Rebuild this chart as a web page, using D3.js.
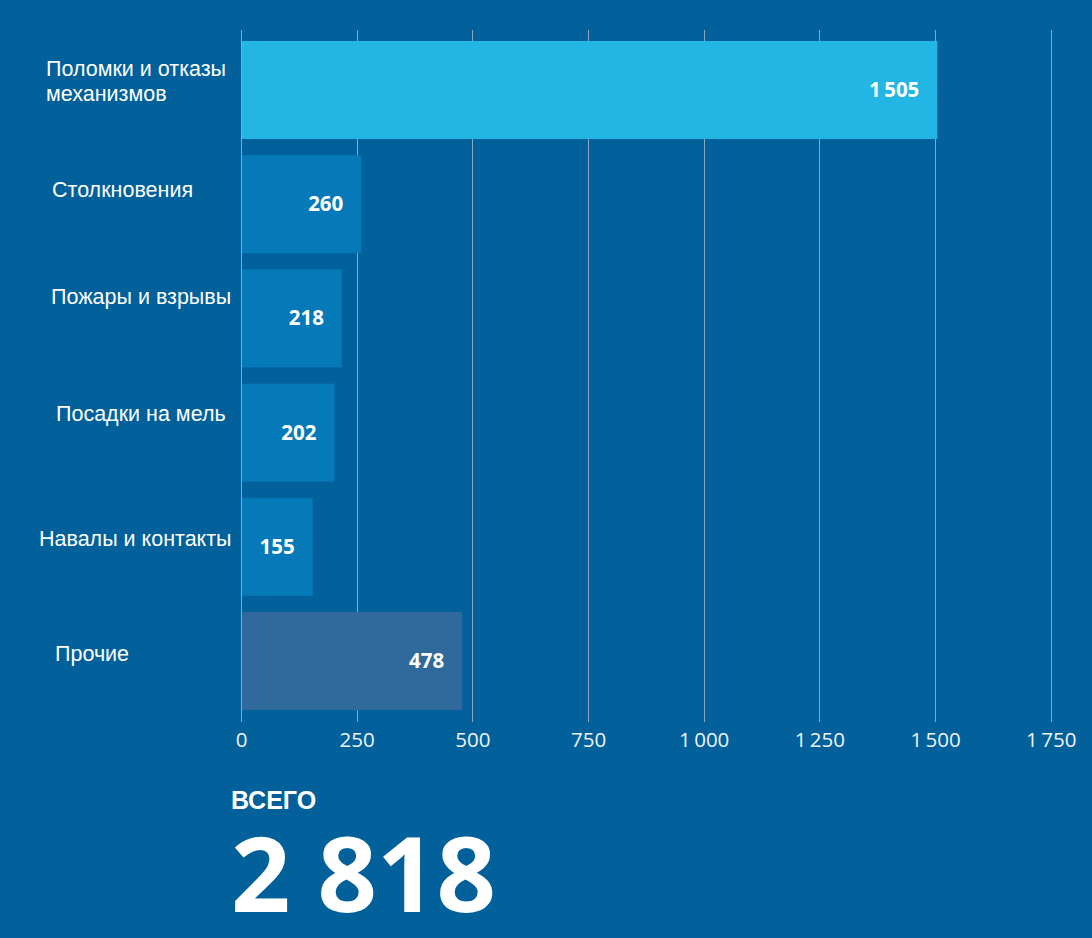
<!DOCTYPE html>
<html lang="ru">
<head>
  <meta charset="UTF-8">
  <title>Аварийные случаи по типам</title>
  <script src="https://d3js.org/d3.v7.min.js"></script>
  <style>
    html, body { margin: 0; padding: 0; background: #02609a; }
    svg { display: block; }
  </style>
</head>
<body>
<script>
  // Данные
  const categories = [
    "Поломки и отказы механизмов",
    "Столкновения",
    "Пожары и взрывы",
    "Посадки на мель",
    "Навалы и контакты",
    "Прочие"
  ];
  const labelLines = [
    ["Поломки и отказы", "механизмов"],
    ["Столкновения"],
    ["Пожары и взрывы"],
    ["Посадки на мель"],
    ["Навалы и контакты"],
    ["Прочие"]
  ];
  const values = [1505, 260, 218, 202, 155, 478];
  const xTicks = [0, 250, 500, 750, 1000, 1250, 1500, 1750];
  const totalLabel = "ВСЕГО";
  const totalValue = 2818;

  // Раскладка подписей слева (как в оригинале, не выровнены)
  const labelX = [46, 52, 51, 56, 39, 55];
  const labelDy = [-14, -7.5, -14, -12, -1, -0.5];

  const width = 1092;
  const height = 938;

  const barColors = ["#23b5e4", "#0679b8", "#0679b8", "#0679b8", "#0679b8", "#306a9c"];

  const fmt = d3.formatLocale({ decimal: ",", thousands: "\u2009", grouping: [3], currency: ["", ""] }).format(",d");

  const svg = d3.select("body")
    .append("svg")
    .attr("width", width)
    .attr("height", height);

  svg.append("rect")
    .attr("width", width)
    .attr("height", height)
    .attr("fill", "#02609a");

  // Шкалы
  const xScale = d3.scaleLinear()
    .domain([0, 1750])
    .range([241, 1050.7]);

  const yScale = d3.scaleBand()
    .domain(categories)
    .range([41, 710])
    .paddingInner(0.142)
    .paddingOuter(0);

  // Сетка
  svg.append("g")
    .selectAll("line")
    .data(xTicks)
    .enter()
    .append("line")
    .attr("x1", d => Math.round(xScale(d)) + 0.5)
    .attr("x2", d => Math.round(xScale(d)) + 0.5)
    .attr("y1", 30)
    .attr("y2", 722)
    .attr("stroke", "#88a9c2")
    .attr("stroke-width", 1);

  // Столбцы
  svg.append("g")
    .selectAll("rect")
    .data(values)
    .enter()
    .append("rect")
    .attr("x", xScale(0) + 1)
    .attr("y", (d, i) => yScale(categories[i]))
    .attr("width", d => xScale(d) - xScale(0) - 1)
    .attr("height", yScale.bandwidth())
    .attr("fill", (d, i) => barColors[i]);

  // Значения на столбцах
  svg.append("g")
    .selectAll("text")
    .data(values)
    .enter()
    .append("text")
    .attr("x", d => xScale(d) - 18)
    .attr("y", (d, i) => yScale(categories[i]) + yScale.bandwidth() / 2 + 7)
    .attr("text-anchor", "end")
    .style("font-family", "'Open Sans', sans-serif")
    .style("font-weight", "700")
    .style("font-size", "20.5px")
    .style("fill", "#ffffff")
    .text(d => fmt(d));

  // Подписи категорий
  const labels = svg.append("g")
    .selectAll("text")
    .data(labelLines)
    .enter()
    .append("text")
    .attr("x", (d, i) => labelX[i])
    .attr("y", (d, i) => yScale(categories[i]) + yScale.bandwidth() / 2 + labelDy[i])
    .style("font-family", "'Liberation Sans', Arial, sans-serif")
    .style("font-size", "21.5px")
    .style("fill", "#ffffff");

  labels.selectAll("tspan")
    .data((d, i) => d.map(t => ({ t, i })))
    .enter()
    .append("tspan")
    .attr("x", d => labelX[d.i])
    .attr("dy", (d, j) => j === 0 ? 0 : 25)
    .text(d => d.t);

  // Ось X
  const xAxis = svg.append("g")
    .attr("transform", "translate(0, 722)")
    .call(d3.axisBottom(xScale).tickValues(xTicks).tickSize(0).tickPadding(0).tickFormat(fmt));

  xAxis.select(".domain").remove();
  xAxis.selectAll("text")
    .attr("y", 25)
    .attr("dy", 0)
    .style("font-family", "'Open Sans', sans-serif")
    .style("font-size", "20.5px")
    .style("fill", "#eef4f8");

  // Итог
  svg.append("text")
    .attr("x", 231)
    .attr("y", 809)
    .style("font-family", "'Liberation Sans', Arial, sans-serif")
    .style("font-weight", "700")
    .style("font-size", "25px")
    .style("fill", "#ffffff")
    .text(totalLabel);

  svg.append("text")
    .attr("x", 231)
    .attr("y", 912)
    .style("font-family", "'Open Sans', sans-serif")
    .style("font-weight", "700")
    .style("font-size", "104px")
    .style("fill", "#ffffff")
    .text(d3.format(",d")(totalValue).replace(",", " "));
</script>
</body>
</html>
